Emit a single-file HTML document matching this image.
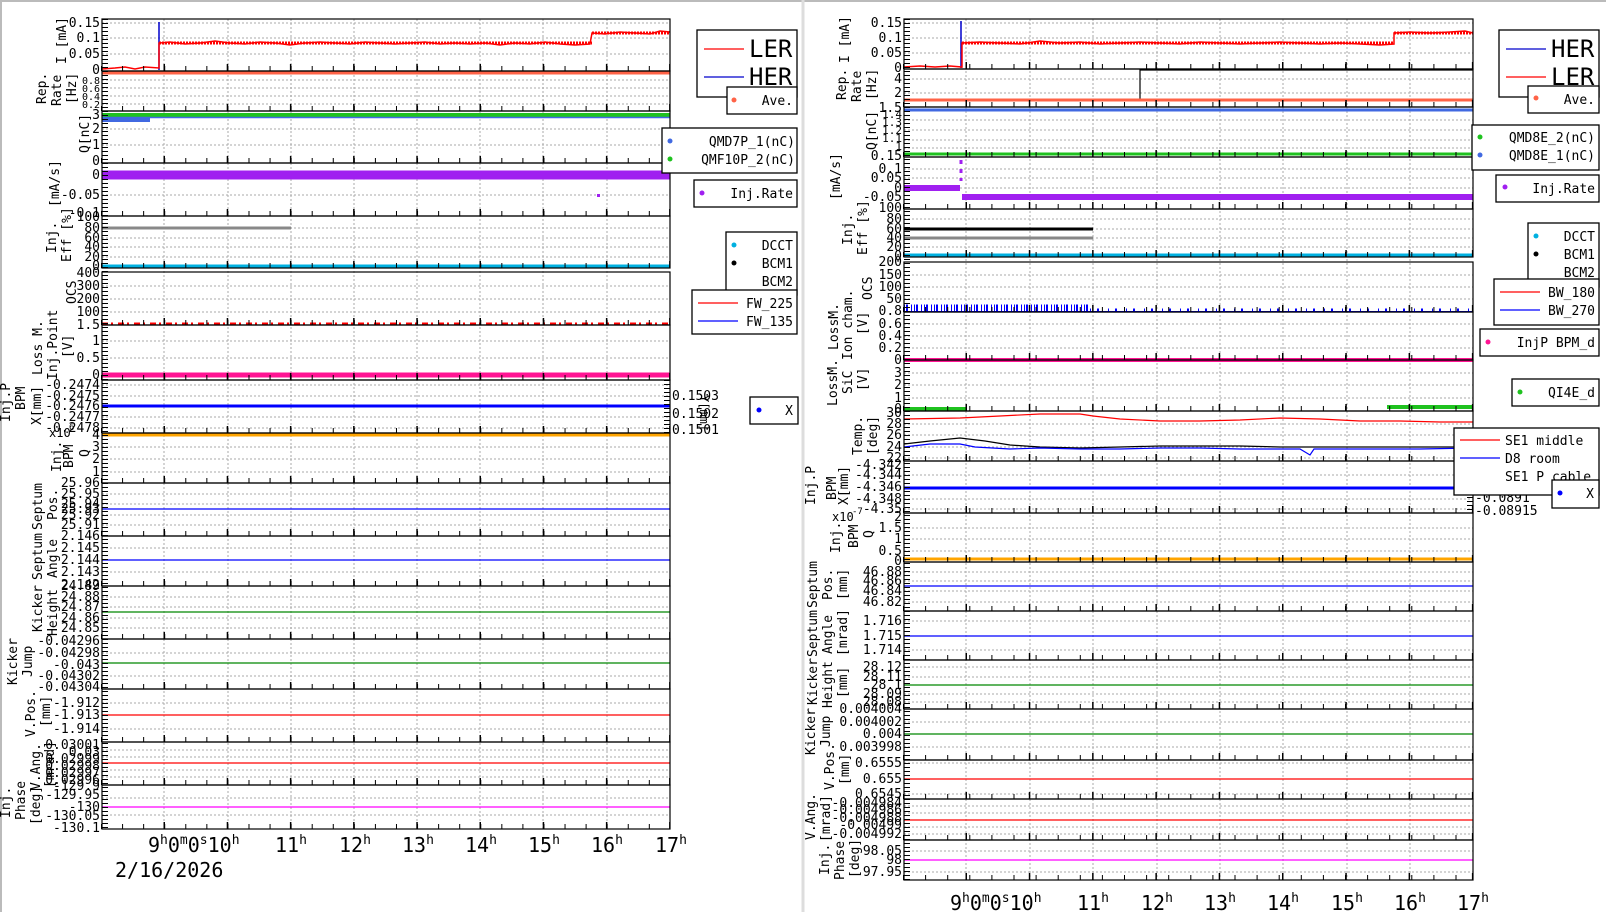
<!DOCTYPE html>
<html><head><meta charset="utf-8"><style>
html,body{margin:0;padding:0;background:#fff}
svg{display:block}
text{font-family:"DejaVu Sans Mono","Liberation Mono",monospace;font-size:13px;fill:#000}
.t{text-anchor:end}
.g{stroke:#aaa;stroke-width:1;stroke-dasharray:2 2}
.b{fill:none;stroke:#000;stroke-width:1.2}
.lg{fill:#fff;stroke:#000;stroke-width:1.3}
</style></head><body>
<svg width="1606" height="912" viewBox="0 0 1606 912" xmlns="http://www.w3.org/2000/svg">
<rect x="0" y="0" width="1606" height="912" fill="#fff"/>
<line x1="0" y1="1" x2="1606" y2="1" stroke="#bbb" stroke-width="2"/>
<line x1="1" y1="0" x2="1" y2="912" stroke="#bbb" stroke-width="2"/>
<line x1="803" y1="0" x2="803" y2="912" stroke="#ddd" stroke-width="3"/>

<!-- ============ LEFT PANEL ============ -->
<g>
<g class="g">
<line x1="164" y1="19" x2="164" y2="829"/><line x1="228" y1="19" x2="228" y2="829"/><line x1="291" y1="19" x2="291" y2="829"/><line x1="354" y1="19" x2="354" y2="829"/><line x1="417" y1="19" x2="417" y2="829"/><line x1="480" y1="19" x2="480" y2="829"/><line x1="543" y1="19" x2="543" y2="829"/><line x1="607" y1="19" x2="607" y2="829"/>
</g>
<g class="g">
<line x1="102" y1="23" x2="670" y2="23"/><line x1="102" y1="38" x2="670" y2="38"/><line x1="102" y1="54" x2="670" y2="54"/>
<line x1="102" y1="80" x2="670" y2="80"/><line x1="102" y1="88" x2="670" y2="88"/><line x1="102" y1="96" x2="670" y2="96"/><line x1="102" y1="104" x2="670" y2="104"/>
<line x1="102" y1="129" x2="670" y2="129"/><line x1="102" y1="145" x2="670" y2="145"/>
<line x1="102" y1="195" x2="670" y2="195"/>
<line x1="102" y1="228" x2="670" y2="228"/><line x1="102" y1="238" x2="670" y2="238"/><line x1="102" y1="247" x2="670" y2="247"/><line x1="102" y1="257" x2="670" y2="257"/>
<line x1="102" y1="286" x2="670" y2="286"/><line x1="102" y1="299" x2="670" y2="299"/><line x1="102" y1="312" x2="670" y2="312"/>
<line x1="102" y1="341" x2="670" y2="341"/><line x1="102" y1="358" x2="670" y2="358"/>
<line x1="102" y1="385" x2="670" y2="385"/><line x1="102" y1="396" x2="670" y2="396"/><line x1="102" y1="417" x2="670" y2="417"/><line x1="102" y1="428" x2="670" y2="428"/>
<line x1="102" y1="447" x2="670" y2="447"/><line x1="102" y1="459" x2="670" y2="459"/><line x1="102" y1="472" x2="670" y2="472"/>
<line x1="102" y1="494" x2="670" y2="494"/><line x1="102" y1="504" x2="670" y2="504"/><line x1="102" y1="515" x2="670" y2="515"/><line x1="102" y1="525" x2="670" y2="525"/>
<line x1="102" y1="548" x2="670" y2="548"/><line x1="102" y1="572" x2="670" y2="572"/>
<line x1="102" y1="597" x2="670" y2="597"/><line x1="102" y1="607" x2="670" y2="607"/><line x1="102" y1="618" x2="670" y2="618"/><line x1="102" y1="628" x2="670" y2="628"/>
<line x1="102" y1="653" x2="670" y2="653"/><line x1="102" y1="676" x2="670" y2="676"/>
<line x1="102" y1="703" x2="670" y2="703"/><line x1="102" y1="729" x2="670" y2="729"/>
<line x1="102" y1="750" x2="670" y2="750"/><line x1="102" y1="757" x2="670" y2="757"/><line x1="102" y1="770" x2="670" y2="770"/><line x1="102" y1="777" x2="670" y2="777"/>
<line x1="102" y1="798" x2="670" y2="798"/><line x1="102" y1="815" x2="670" y2="815"/>
</g>
<line x1="159" y1="22" x2="159" y2="70" stroke="#00c" stroke-width="1.5"/>
<polyline fill="none" stroke="#f00" stroke-width="1.5" points="102,69 115,68 125,67 135,69 145,67 159,68 159,43 170,42 185,44 200,43 215,41 230,43 245,44 260,42 275,43 290,45 305,43 320,42 335,43 350,44 365,42 380,43 395,44 410,43 425,42 440,44 455,43 470,44 485,43 500,45 515,43 530,44 545,42 560,44 575,45 590,44 592,33 605,34 620,32 635,33 650,34 660,31 670,32"/>
<polyline fill="none" stroke="#f00" stroke-width="3" stroke-dasharray="2 1" points="159,43 592,43"/>
<polyline fill="none" stroke="#f00" stroke-width="3" stroke-dasharray="2 1" points="592,33 670,33"/>
<line x1="102" y1="73" x2="670" y2="73" stroke="#ff6347" stroke-width="3"/>
<line x1="102" y1="115" x2="670" y2="115" stroke="#1fc21f" stroke-width="4"/>
<line x1="102" y1="117.5" x2="670" y2="117.5" stroke="#4169e1" stroke-width="1.5"/>
<rect x="102" y="117" width="48" height="5" fill="#4169e1"/>
<line x1="102" y1="175" x2="670" y2="175" stroke="#a020f0" stroke-width="9"/>
<rect x="597" y="194" width="3" height="3" fill="#a020f0"/>
<line x1="102" y1="228" x2="291" y2="228" stroke="#888" stroke-width="3"/>
<line x1="102" y1="266" x2="670" y2="266" stroke="#00b0e0" stroke-width="3"/>
<line x1="102" y1="323.5" x2="670" y2="323.5" stroke="#f00" stroke-width="2" stroke-dasharray="6 3 2 5"/>
<line x1="102" y1="325" x2="670" y2="325" stroke="#00f" stroke-width="1"/>
<line x1="102" y1="375" x2="670" y2="375" stroke="#ff1493" stroke-width="5"/>
<line x1="102" y1="406" x2="670" y2="406" stroke="#00f" stroke-width="3"/>
<line x1="102" y1="435" x2="670" y2="435" stroke="#ffa500" stroke-width="3"/>
<line x1="102" y1="509" x2="670" y2="509" stroke="#00f" stroke-width="1.3"/>
<line x1="102" y1="560" x2="670" y2="560" stroke="#00f" stroke-width="1.3"/>
<line x1="102" y1="612" x2="670" y2="612" stroke="#080" stroke-width="1.3"/>
<line x1="102" y1="663" x2="670" y2="663" stroke="#080" stroke-width="1.3"/>
<line x1="102" y1="715" x2="670" y2="715" stroke="#f00" stroke-width="1.3"/>
<line x1="102" y1="763" x2="670" y2="763" stroke="#f00" stroke-width="1.3"/>
<line x1="102" y1="807" x2="670" y2="807" stroke="#f0f" stroke-width="1.3"/>
<g class="b">
<rect x="102" y="19" width="568" height="52"/><rect x="102" y="71" width="568" height="40"/><rect x="102" y="111" width="568" height="52"/><rect x="102" y="163" width="568" height="53"/><rect x="102" y="216" width="568" height="52"/><rect x="102" y="272" width="568" height="53"/><rect x="102" y="325" width="568" height="55"/><rect x="102" y="380" width="568" height="53"/><rect x="102" y="433" width="568" height="50"/><rect x="102" y="483" width="568" height="53"/><rect x="102" y="536" width="568" height="50"/><rect x="102" y="586" width="568" height="53"/><rect x="102" y="639" width="568" height="50"/><rect x="102" y="689" width="568" height="53"/><rect x="102" y="742" width="568" height="43"/><rect x="102" y="785" width="568" height="44"/>
</g>
<line x1="105" y1="19" x2="105" y2="829" stroke="#000" stroke-width="6" stroke-dasharray="1 3"/>
<line x1="667" y1="380" x2="667" y2="433" stroke="#000" stroke-width="6" stroke-dasharray="1 3"/>
<g stroke="#000">
<g stroke-width="5" stroke-dasharray="1 20.07">
<line x1="101" y1="68.5" x2="670" y2="68.5"/><line x1="101" y1="108.5" x2="670" y2="108.5"/><line x1="101" y1="160.5" x2="670" y2="160.5"/><line x1="101" y1="213.5" x2="670" y2="213.5"/><line x1="101" y1="265.5" x2="670" y2="265.5"/><line x1="101" y1="322.5" x2="670" y2="322.5"/><line x1="101" y1="377.5" x2="670" y2="377.5"/><line x1="101" y1="430.5" x2="670" y2="430.5"/><line x1="101" y1="480.5" x2="670" y2="480.5"/><line x1="101" y1="533.5" x2="670" y2="533.5"/><line x1="101" y1="583.5" x2="670" y2="583.5"/><line x1="101" y1="636.5" x2="670" y2="636.5"/><line x1="101" y1="686.5" x2="670" y2="686.5"/><line x1="101" y1="739.5" x2="670" y2="739.5"/><line x1="101" y1="782.5" x2="670" y2="782.5"/><line x1="101" y1="826.5" x2="670" y2="826.5"/>
</g>
<g stroke-width="7" stroke-dasharray="1.5 61.7">
<line x1="163.5" y1="67.5" x2="670" y2="67.5"/><line x1="163.5" y1="107.5" x2="670" y2="107.5"/><line x1="163.5" y1="159.5" x2="670" y2="159.5"/><line x1="163.5" y1="212.5" x2="670" y2="212.5"/><line x1="163.5" y1="264.5" x2="670" y2="264.5"/><line x1="163.5" y1="321.5" x2="670" y2="321.5"/><line x1="163.5" y1="376.5" x2="670" y2="376.5"/><line x1="163.5" y1="429.5" x2="670" y2="429.5"/><line x1="163.5" y1="479.5" x2="670" y2="479.5"/><line x1="163.5" y1="532.5" x2="670" y2="532.5"/><line x1="163.5" y1="582.5" x2="670" y2="582.5"/><line x1="163.5" y1="635.5" x2="670" y2="635.5"/><line x1="163.5" y1="685.5" x2="670" y2="685.5"/><line x1="163.5" y1="738.5" x2="670" y2="738.5"/><line x1="163.5" y1="781.5" x2="670" y2="781.5"/><line x1="163.5" y1="825.5" x2="670" y2="825.5"/>
</g>
</g>
<g class="t">
<text x="100" y="27">0.15</text><text x="100" y="42">0.1</text><text x="100" y="58">0.05</text><text x="100" y="74">0</text>
<text x="100" y="84" style="font-size:10px">0.8</text><text x="100" y="92" style="font-size:10px">0.6</text><text x="100" y="100" style="font-size:10px">0.4</text><text x="100" y="108" style="font-size:10px">0.2</text>
<text x="100" y="119">3</text><text x="100" y="133">2</text><text x="100" y="149">1</text><text x="100" y="165">0</text>
<text x="100" y="179">0</text><text x="100" y="199">-0.05</text><text x="100" y="217">-0.1</text>
<text x="100" y="221">100</text><text x="100" y="232">80</text><text x="100" y="242">60</text><text x="100" y="251">40</text><text x="100" y="261">20</text><text x="100" y="270">0</text>
<text x="100" y="277">400</text><text x="100" y="290">300</text><text x="100" y="303">200</text><text x="100" y="316">100</text><text x="100" y="329">1.5</text>
<text x="100" y="345">1</text><text x="100" y="362">0.5</text><text x="100" y="379">0</text>
<text x="100" y="389">-0.2474</text><text x="100" y="400">-0.2475</text><text x="100" y="410">-0.2476</text><text x="100" y="421">-0.2477</text><text x="100" y="432">-0.2478</text>
<text x="100" y="439">4</text><text x="100" y="451">3</text><text x="100" y="463">2</text><text x="100" y="476">1</text>
<text x="100" y="487">25.96</text><text x="100" y="498">25.95</text><text x="100" y="508">25.94</text><text x="100" y="513">25.93</text><text x="100" y="519">25.92</text><text x="100" y="529">25.91</text>
<text x="100" y="540">2.146</text><text x="100" y="552">2.145</text><text x="100" y="564">2.144</text><text x="100" y="576">2.143</text><text x="100" y="589">2.142</text>
<text x="100" y="590">24.89</text><text x="100" y="601">24.88</text><text x="100" y="611">24.87</text><text x="100" y="622">24.86</text><text x="100" y="632">24.85</text>
<text x="100" y="645">-0.04296</text><text x="100" y="657">-0.04298</text><text x="100" y="669">-0.043</text><text x="100" y="680">-0.04302</text><text x="100" y="691">-0.04304</text>
<text x="100" y="707">-1.912</text><text x="100" y="719">-1.913</text><text x="100" y="733">-1.914</text>
<text x="100" y="749">0.03001</text><text x="100" y="756">0.03</text><text x="100" y="763">0.02999</text><text x="100" y="770">0.02998</text><text x="100" y="777">0.02997</text><text x="100" y="784">0.02996</text>
<text x="100" y="790">-129.9</text><text x="100" y="799">-129.95</text><text x="100" y="811">-130</text><text x="100" y="820">-130.05</text><text x="100" y="832">-130.1</text>
</g>
<text x="49" y="437" style="font-size:12px">x10</text><text x="69" y="430" style="font-size:9px">6</text>
<text x="672" y="400">0.1503</text><text x="672" y="418">0.1502</text><text x="672" y="434">0.1501</text>
<text transform="translate(700,395) rotate(90)" style="font-size:12px">Y[mm]</text>
<g>
<text transform="translate(66,64) rotate(-90)">I [mA]</text>
<text transform="translate(46,104) rotate(-90)">Rep.</text><text transform="translate(61,106) rotate(-90)">Rate</text><text transform="translate(76,104) rotate(-90)">[Hz]</text>
<text transform="translate(89,153) rotate(-90)">Q[nC]</text>
<text transform="translate(59,207) rotate(-90)">[mA/s]</text>
<text transform="translate(56,253) rotate(-90)">Inj.</text><text transform="translate(71,262) rotate(-90)">Eff [%]</text>
<text transform="translate(76,304) rotate(-90)">OCS</text>
<text transform="translate(42,375) rotate(-90)">Loss M.</text><text transform="translate(57,380) rotate(-90)">Inj.Point</text><text transform="translate(72,358) rotate(-90)">[V]</text>
<text transform="translate(10,422) rotate(-90)">Inj.P</text><text transform="translate(25,410) rotate(-90)">BPM</text><text transform="translate(41,425) rotate(-90)">X[mm]</text>
<text transform="translate(61,472) rotate(-90)">Inj.</text><text transform="translate(73,468) rotate(-90)">BPM</text><text transform="translate(89,457) rotate(-90)">Q</text>
<text transform="translate(42,530) rotate(-90)">Septum</text><text transform="translate(57,520) rotate(-90)">Pos.</text>
<text transform="translate(42,580) rotate(-90)">Septum</text><text transform="translate(57,578) rotate(-90)">Angle</text>
<text transform="translate(42,632) rotate(-90)">Kicker</text><text transform="translate(57,636) rotate(-90)">Height</text>
<text transform="translate(17,685) rotate(-90)">Kicker</text><text transform="translate(32,677) rotate(-90)">Jump</text>
<text transform="translate(35,737) rotate(-90)">V.Pos.</text><text transform="translate(50,727) rotate(-90)">[mm]</text>
<text transform="translate(40,790) rotate(-90)">V.Ang.</text><text transform="translate(54,788) rotate(-90)">[mrad]</text>
<text transform="translate(10,818) rotate(-90)">Inj.</text><text transform="translate(25,820) rotate(-90)">Phase</text><text transform="translate(40,825) rotate(-90)">[deg]</text>
</g>
<g style="font-size:20px">
<text x="148" y="852" style="font-size:20px">9<tspan dy="-8" style="font-size:13px">h</tspan><tspan dy="8">0</tspan><tspan dy="-8" style="font-size:13px">m</tspan><tspan dy="8">0</tspan><tspan dy="-8" style="font-size:13px">s</tspan><tspan dy="8">10</tspan><tspan dy="-8" style="font-size:13px">h</tspan></text>
<text x="275" y="852" style="font-size:20px">11<tspan dy="-8" style="font-size:13px">h</tspan></text>
<text x="339" y="852" style="font-size:20px">12<tspan dy="-8" style="font-size:13px">h</tspan></text>
<text x="402" y="852" style="font-size:20px">13<tspan dy="-8" style="font-size:13px">h</tspan></text>
<text x="465" y="852" style="font-size:20px">14<tspan dy="-8" style="font-size:13px">h</tspan></text>
<text x="528" y="852" style="font-size:20px">15<tspan dy="-8" style="font-size:13px">h</tspan></text>
<text x="591" y="852" style="font-size:20px">16<tspan dy="-8" style="font-size:13px">h</tspan></text>
<text x="655" y="852" style="font-size:20px">17<tspan dy="-8" style="font-size:13px">h</tspan></text>
<text x="115" y="877" style="font-size:20px">2/16/2026</text>
</g>
<rect class="lg" x="697" y="30" width="100" height="67"/>
<line x1="704" y1="49" x2="744" y2="49" stroke="#f00" stroke-width="1.3"/><text x="749" y="57" style="font-size:24px">LER</text>
<line x1="704" y1="77" x2="744" y2="77" stroke="#00c" stroke-width="1.3"/><text x="749" y="85" style="font-size:24px">HER</text>
<rect class="lg" x="727" y="87" width="70" height="27"/><circle cx="734" cy="100" r="2.5" fill="#ff6347"/><text x="793" y="105" class="t">Ave.</text>
<rect class="lg" x="662" y="128" width="135" height="45"/><circle cx="670" cy="141" r="2.5" fill="#4169e1"/><text x="795" y="146" class="t">QMD7P_1(nC)</text><circle cx="670" cy="159" r="2.5" fill="#1fc21f"/><text x="795" y="164" class="t">QMF10P_2(nC)</text>
<rect class="lg" x="694" y="180" width="103" height="27"/><circle cx="702" cy="193" r="2.5" fill="#a020f0"/><text x="793" y="198" class="t">Inj.Rate</text>
<rect class="lg" x="726" y="232" width="71" height="63"/><circle cx="734" cy="245" r="2.5" fill="#00b0e0"/><text x="793" y="250" class="t">DCCT</text><circle cx="734" cy="263" r="2.5" fill="#000"/><text x="793" y="268" class="t">BCM1</text><text x="793" y="286" class="t">BCM2</text>
<rect class="lg" x="692" y="290" width="105" height="44"/><line x1="698" y1="303" x2="738" y2="303" stroke="#f00" stroke-width="1.3"/><text x="793" y="308" class="t">FW_225</text><line x1="698" y1="321" x2="738" y2="321" stroke="#00f" stroke-width="1.3"/><text x="793" y="326" class="t">FW_135</text>
<rect class="lg" x="750" y="397" width="48" height="27"/><circle cx="759" cy="410" r="2.5" fill="#00f"/><text x="793" y="415" class="t">X</text>
</g>

<!-- ============ RIGHT PANEL ============ -->
<g>
<g class="g">
<line x1="966" y1="19" x2="966" y2="880"/><line x1="1030" y1="19" x2="1030" y2="880"/><line x1="1093" y1="19" x2="1093" y2="880"/><line x1="1157" y1="19" x2="1157" y2="880"/><line x1="1220" y1="19" x2="1220" y2="880"/><line x1="1283" y1="19" x2="1283" y2="880"/><line x1="1347" y1="19" x2="1347" y2="880"/><line x1="1410" y1="19" x2="1410" y2="880"/>
</g>
<g class="g">
<line x1="904" y1="23" x2="1473" y2="23"/><line x1="904" y1="38" x2="1473" y2="38"/><line x1="904" y1="53" x2="1473" y2="53"/>
<line x1="904" y1="79" x2="1473" y2="79"/><line x1="904" y1="93" x2="1473" y2="93"/>
<line x1="904" y1="120" x2="1473" y2="120"/><line x1="904" y1="130" x2="1473" y2="130"/><line x1="904" y1="140" x2="1473" y2="140"/><line x1="904" y1="148" x2="1473" y2="148"/>
<line x1="904" y1="169" x2="1473" y2="169"/><line x1="904" y1="178" x2="1473" y2="178"/><line x1="904" y1="188" x2="1473" y2="188"/>
<line x1="904" y1="219" x2="1473" y2="219"/><line x1="904" y1="229" x2="1473" y2="229"/><line x1="904" y1="238" x2="1473" y2="238"/><line x1="904" y1="247" x2="1473" y2="247"/>
<line x1="904" y1="275" x2="1473" y2="275"/><line x1="904" y1="287" x2="1473" y2="287"/><line x1="904" y1="299" x2="1473" y2="299"/>
<line x1="904" y1="324" x2="1473" y2="324"/><line x1="904" y1="336" x2="1473" y2="336"/><line x1="904" y1="348" x2="1473" y2="348"/>
<line x1="904" y1="373" x2="1473" y2="373"/><line x1="904" y1="385" x2="1473" y2="385"/><line x1="904" y1="398" x2="1473" y2="398"/>
<line x1="904" y1="424" x2="1473" y2="424"/><line x1="904" y1="435" x2="1473" y2="435"/><line x1="904" y1="447" x2="1473" y2="447"/><line x1="904" y1="458" x2="1473" y2="458"/>
<line x1="904" y1="475" x2="1473" y2="475"/><line x1="904" y1="499" x2="1473" y2="499"/><line x1="904" y1="509" x2="1473" y2="509"/>
<line x1="904" y1="528" x2="1473" y2="528"/><line x1="904" y1="539" x2="1473" y2="539"/><line x1="904" y1="551" x2="1473" y2="551"/>
<line x1="904" y1="572" x2="1473" y2="572"/><line x1="904" y1="581" x2="1473" y2="581"/><line x1="904" y1="591" x2="1473" y2="591"/><line x1="904" y1="602" x2="1473" y2="602"/>
<line x1="904" y1="621" x2="1473" y2="621"/><line x1="904" y1="650" x2="1473" y2="650"/>
<line x1="904" y1="667" x2="1473" y2="667"/><line x1="904" y1="677" x2="1473" y2="677"/><line x1="904" y1="694" x2="1473" y2="694"/><line x1="904" y1="702" x2="1473" y2="702"/>
<line x1="904" y1="722" x2="1473" y2="722"/><line x1="904" y1="747" x2="1473" y2="747"/>
<line x1="904" y1="763" x2="1473" y2="763"/><line x1="904" y1="794" x2="1473" y2="794"/>
<line x1="904" y1="806" x2="1473" y2="806"/><line x1="904" y1="813" x2="1473" y2="813"/><line x1="904" y1="827" x2="1473" y2="827"/><line x1="904" y1="834" x2="1473" y2="834"/>
<line x1="904" y1="851" x2="1473" y2="851"/><line x1="904" y1="872" x2="1473" y2="872"/>
</g>
<line x1="961" y1="21" x2="961" y2="68" stroke="#00c" stroke-width="1.5"/>
<polyline fill="none" stroke="#f00" stroke-width="1.5" points="904,67 920,66 935,67 950,66 962,67 962,43 980,42 1000,43 1020,44 1040,41 1060,43 1080,42 1100,44 1120,43 1140,42 1160,43 1180,44 1200,42 1220,43 1240,44 1260,43 1280,42 1300,43 1320,44 1340,43 1360,44 1380,45 1394,44 1394,33 1410,32 1430,33 1450,32 1465,31 1473,33"/>
<polyline fill="none" stroke="#f00" stroke-width="3" stroke-dasharray="2 1" points="962,43 1394,43"/>
<polyline fill="none" stroke="#f00" stroke-width="3" stroke-dasharray="2 1" points="1394,33 1473,33"/>
<polyline fill="none" stroke="#000" stroke-width="1.2" points="1140,99 1140,70 1473,70"/>
<line x1="904" y1="100" x2="1473" y2="100" stroke="#ff6347" stroke-width="3"/>
<line x1="904" y1="110" x2="1473" y2="110" stroke="#4169e1" stroke-width="3"/>
<line x1="904" y1="154" x2="1473" y2="154" stroke="#1fc21f" stroke-width="3"/>
<line x1="961" y1="160" x2="961" y2="181" stroke="#a020f0" stroke-width="3" stroke-dasharray="4 5"/>
<line x1="904" y1="188" x2="960" y2="188" stroke="#a020f0" stroke-width="6"/>
<line x1="962" y1="197" x2="1473" y2="197" stroke="#a020f0" stroke-width="6"/>
<line x1="904" y1="229" x2="1093" y2="229" stroke="#000" stroke-width="3"/>
<line x1="904" y1="238" x2="1093" y2="238" stroke="#888" stroke-width="3"/>
<line x1="904" y1="255" x2="1473" y2="255" stroke="#00b0e0" stroke-width="3"/>
<line x1="904" y1="308" x2="1090" y2="308" stroke="#00f" stroke-width="7" stroke-dasharray="1 1 2 3 1 2"/>
<line x1="1090" y1="310" x2="1473" y2="310" stroke="#00f" stroke-width="3" stroke-dasharray="1 6 2 9"/>
<line x1="904" y1="311.5" x2="1473" y2="311.5" stroke="#00f" stroke-width="1"/>
<line x1="904" y1="360" x2="1473" y2="360" stroke="#ff1493" stroke-width="4"/>
<line x1="904" y1="409" x2="967" y2="409" stroke="#1fc21f" stroke-width="4"/>
<line x1="1387" y1="407" x2="1473" y2="407" stroke="#1fc21f" stroke-width="4"/>
<polyline fill="none" stroke="#f00" stroke-width="1.2" points="904,419 960,418 1000,416 1040,414 1080,414 1093,416 1120,419 1160,421 1200,421 1240,420 1280,418 1320,419 1360,421 1400,421 1440,422 1473,422"/>
<polyline fill="none" stroke="#000" stroke-width="1.2" points="904,444 930,441 960,438 985,441 1010,445 1040,447 1080,448 1120,447 1160,446 1200,446 1240,446 1280,447 1320,447 1360,447 1400,447 1473,447"/>
<polyline fill="none" stroke="#00f" stroke-width="1.2" points="904,447 930,444 960,444 975,447 1010,449 1040,448 1080,449 1120,449 1160,448 1200,448 1240,449 1280,449 1300,449 1310,455 1314,449 1360,449 1420,449 1473,448"/>
<line x1="904" y1="488" x2="1473" y2="488" stroke="#00f" stroke-width="3"/>
<line x1="904" y1="559" x2="1473" y2="559" stroke="#ffa500" stroke-width="3"/>
<line x1="904" y1="586" x2="1473" y2="586" stroke="#00f" stroke-width="1.3"/>
<line x1="904" y1="636" x2="1473" y2="636" stroke="#00f" stroke-width="1.3"/>
<line x1="904" y1="685" x2="1473" y2="685" stroke="#080" stroke-width="1.3"/>
<line x1="904" y1="734" x2="1473" y2="734" stroke="#080" stroke-width="1.3"/>
<line x1="904" y1="779" x2="1473" y2="779" stroke="#f00" stroke-width="1.3"/>
<line x1="904" y1="820" x2="1473" y2="820" stroke="#f00" stroke-width="1.3"/>
<line x1="904" y1="860" x2="1473" y2="860" stroke="#f0f" stroke-width="1.3"/>
<g class="b">
<rect x="904" y="19" width="569" height="50"/><rect x="904" y="69" width="569" height="38"/><rect x="904" y="107" width="569" height="50"/><rect x="904" y="157" width="569" height="52"/><rect x="904" y="209" width="569" height="48"/><rect x="904" y="262" width="569" height="50"/><rect x="904" y="312" width="569" height="48"/><rect x="904" y="360" width="569" height="51"/><rect x="904" y="411" width="569" height="50"/><rect x="904" y="461" width="569" height="52"/><rect x="904" y="513" width="569" height="49"/><rect x="904" y="562" width="569" height="49"/><rect x="904" y="611" width="569" height="49"/><rect x="904" y="660" width="569" height="49"/><rect x="904" y="709" width="569" height="51"/><rect x="904" y="760" width="569" height="39"/><rect x="904" y="799" width="569" height="41"/><rect x="904" y="840" width="569" height="40"/>
</g>
<line x1="907" y1="19" x2="907" y2="880" stroke="#000" stroke-width="6" stroke-dasharray="1 3"/>
<line x1="1470" y1="461" x2="1470" y2="513" stroke="#000" stroke-width="6" stroke-dasharray="1 3"/>
<g stroke="#000">
<g stroke-width="5" stroke-dasharray="1 21.1">
<line x1="903" y1="66.5" x2="1473" y2="66.5"/><line x1="903" y1="104.5" x2="1473" y2="104.5"/><line x1="903" y1="154.5" x2="1473" y2="154.5"/><line x1="903" y1="206.5" x2="1473" y2="206.5"/><line x1="903" y1="254.5" x2="1473" y2="254.5"/><line x1="903" y1="309.5" x2="1473" y2="309.5"/><line x1="903" y1="357.5" x2="1473" y2="357.5"/><line x1="903" y1="408.5" x2="1473" y2="408.5"/><line x1="903" y1="458.5" x2="1473" y2="458.5"/><line x1="903" y1="510.5" x2="1473" y2="510.5"/><line x1="903" y1="559.5" x2="1473" y2="559.5"/><line x1="903" y1="608.5" x2="1473" y2="608.5"/><line x1="903" y1="657.5" x2="1473" y2="657.5"/><line x1="903" y1="706.5" x2="1473" y2="706.5"/><line x1="903" y1="757.5" x2="1473" y2="757.5"/><line x1="903" y1="796.5" x2="1473" y2="796.5"/><line x1="903" y1="837.5" x2="1473" y2="837.5"/><line x1="903" y1="877.5" x2="1473" y2="877.5"/>
</g>
<g stroke-width="7" stroke-dasharray="1.5 61.8">
<line x1="965.5" y1="65.5" x2="1473" y2="65.5"/><line x1="965.5" y1="103.5" x2="1473" y2="103.5"/><line x1="965.5" y1="153.5" x2="1473" y2="153.5"/><line x1="965.5" y1="205.5" x2="1473" y2="205.5"/><line x1="965.5" y1="253.5" x2="1473" y2="253.5"/><line x1="965.5" y1="308.5" x2="1473" y2="308.5"/><line x1="965.5" y1="356.5" x2="1473" y2="356.5"/><line x1="965.5" y1="407.5" x2="1473" y2="407.5"/><line x1="965.5" y1="457.5" x2="1473" y2="457.5"/><line x1="965.5" y1="509.5" x2="1473" y2="509.5"/><line x1="965.5" y1="558.5" x2="1473" y2="558.5"/><line x1="965.5" y1="607.5" x2="1473" y2="607.5"/><line x1="965.5" y1="656.5" x2="1473" y2="656.5"/><line x1="965.5" y1="705.5" x2="1473" y2="705.5"/><line x1="965.5" y1="756.5" x2="1473" y2="756.5"/><line x1="965.5" y1="795.5" x2="1473" y2="795.5"/><line x1="965.5" y1="836.5" x2="1473" y2="836.5"/><line x1="965.5" y1="876.5" x2="1473" y2="876.5"/>
</g>
</g>
<g class="t">
<text x="902" y="27">0.15</text><text x="902" y="42">0.1</text><text x="902" y="57">0.05</text><text x="902" y="72">0</text>
<text x="902" y="83">4</text><text x="902" y="97">2</text>
<text x="902" y="112">1.5</text><text x="902" y="118" style="font-size:11px">1.4</text><text x="902" y="126" style="font-size:11px">1.3</text><text x="902" y="134" style="font-size:11px">1.2</text><text x="902" y="142" style="font-size:11px">1.1</text><text x="902" y="150" style="font-size:11px">1</text><text x="902" y="160">0.15</text>
<text x="902" y="173">0.1</text><text x="902" y="182">0.05</text><text x="902" y="192">0</text><text x="902" y="201">-0.05</text><text x="902" y="212">100</text>
<text x="902" y="223">80</text><text x="902" y="233">60</text><text x="902" y="242">40</text><text x="902" y="251">20</text><text x="902" y="260">0</text>
<text x="902" y="266">200</text><text x="902" y="279">150</text><text x="902" y="291">100</text><text x="902" y="303">50</text><text x="902" y="315">0.8</text>
<text x="902" y="328">0.6</text><text x="902" y="340">0.4</text><text x="902" y="352">0.2</text><text x="902" y="364">0</text>
<text x="902" y="377">3</text><text x="902" y="389">2</text><text x="902" y="402">1</text><text x="902" y="413">0</text>
<text x="902" y="417">30</text><text x="902" y="428">28</text><text x="902" y="439">26</text><text x="902" y="451">24</text><text x="902" y="462">22</text>
<text x="902" y="469">-4.342</text><text x="902" y="479">-4.344</text><text x="902" y="491">-4.346</text><text x="902" y="503">-4.348</text><text x="902" y="513">-4.35</text>
<text x="902" y="521">2</text><text x="902" y="532">1.5</text><text x="902" y="543">1</text><text x="902" y="555">0.5</text><text x="902" y="565">0</text>
<text x="902" y="576">46.88</text><text x="902" y="585">46.86</text><text x="902" y="595">46.84</text><text x="902" y="606">46.82</text>
<text x="902" y="625">1.716</text><text x="902" y="640">1.715</text><text x="902" y="654">1.714</text>
<text x="902" y="671">28.12</text><text x="902" y="681">28.11</text><text x="902" y="689">28.1</text><text x="902" y="698">28.09</text><text x="902" y="706">28.08</text>
<text x="902" y="713">0.004004</text><text x="902" y="726">0.004002</text><text x="902" y="738">0.004</text><text x="902" y="751">0.003998</text>
<text x="902" y="767">0.6555</text><text x="902" y="783">0.655</text><text x="902" y="798">0.6545</text>
<text x="902" y="807">-0.004984</text><text x="902" y="814">-0.004986</text><text x="902" y="822">-0.004988</text><text x="902" y="829">-0.00499</text><text x="902" y="838">-0.004992</text>
<text x="902" y="855">98.05</text><text x="902" y="864">98</text><text x="902" y="876">97.95</text>
</g>
<text x="832" y="521" style="font-size:12px">x10</text><text x="852" y="514" style="font-size:9px">-7</text>
<text x="1475" y="474">-0.089</text><text x="1475" y="489">-0.08905</text><text x="1475" y="502">-0.0891</text><text x="1475" y="515">-0.08915</text>
<g>
<text transform="translate(849,63) rotate(-90)">I [mA]</text>
<text transform="translate(846,100) rotate(-90)">Rep.</text><text transform="translate(861,102) rotate(-90)">Rate</text><text transform="translate(876,100) rotate(-90)">[Hz]</text>
<text transform="translate(876,150) rotate(-90)">Q[nC]</text>
<text transform="translate(840,200) rotate(-90)">[mA/s]</text>
<text transform="translate(852,245) rotate(-90)">Inj.</text><text transform="translate(867,255) rotate(-90)">Eff [%]</text>
<text transform="translate(872,300) rotate(-90)">OCS</text>
<text transform="translate(838,350) rotate(-90)">LossM.</text><text transform="translate(852,360) rotate(-90)">Ion cham.</text><text transform="translate(867,335) rotate(-90)">[V]</text>
<text transform="translate(837,406) rotate(-90)">LossM.</text><text transform="translate(852,394) rotate(-90)">SiC</text><text transform="translate(867,391) rotate(-90)">[V]</text>
<text transform="translate(862,455) rotate(-90)">Temp.</text><text transform="translate(877,455) rotate(-90)">[deg]</text>
<text transform="translate(815,505) rotate(-90)">Inj.P</text><text transform="translate(836,500) rotate(-90)">BPM</text><text transform="translate(848,505) rotate(-90)">X[mm]</text>
<text transform="translate(840,553) rotate(-90)">Inj.</text><text transform="translate(858,548) rotate(-90)">BPM</text><text transform="translate(873,538) rotate(-90)">Q</text>
<text transform="translate(817,608) rotate(-90)">Septum</text><text transform="translate(832,600) rotate(-90)">Pos.</text><text transform="translate(847,600) rotate(-90)">[mm]</text>
<text transform="translate(817,657) rotate(-90)">Septum</text><text transform="translate(832,654) rotate(-90)">Angle</text><text transform="translate(847,656) rotate(-90)">[mrad]</text>
<text transform="translate(817,705) rotate(-90)">Kicker</text><text transform="translate(832,708) rotate(-90)">Height</text><text transform="translate(847,698) rotate(-90)">[mm]</text>
<text transform="translate(815,755) rotate(-90)">Kicker</text><text transform="translate(830,747) rotate(-90)">Jump</text>
<text transform="translate(834,790) rotate(-90)">V.Pos.</text><text transform="translate(849,785) rotate(-90)">[mm]</text>
<text transform="translate(815,840) rotate(-90)">V.Ang.</text><text transform="translate(830,842) rotate(-90)">[mrad]</text>
<text transform="translate(829,875) rotate(-90)">Inj.</text><text transform="translate(844,880) rotate(-90)">Phase</text><text transform="translate(859,878) rotate(-90)">[deg]</text>
</g>
<g>
<text x="950" y="910" style="font-size:20px">9<tspan dy="-8" style="font-size:13px">h</tspan><tspan dy="8">0</tspan><tspan dy="-8" style="font-size:13px">m</tspan><tspan dy="8">0</tspan><tspan dy="-8" style="font-size:13px">s</tspan><tspan dy="8">10</tspan><tspan dy="-8" style="font-size:13px">h</tspan></text>
<text x="1077" y="910" style="font-size:20px">11<tspan dy="-8" style="font-size:13px">h</tspan></text>
<text x="1141" y="910" style="font-size:20px">12<tspan dy="-8" style="font-size:13px">h</tspan></text>
<text x="1204" y="910" style="font-size:20px">13<tspan dy="-8" style="font-size:13px">h</tspan></text>
<text x="1267" y="910" style="font-size:20px">14<tspan dy="-8" style="font-size:13px">h</tspan></text>
<text x="1331" y="910" style="font-size:20px">15<tspan dy="-8" style="font-size:13px">h</tspan></text>
<text x="1394" y="910" style="font-size:20px">16<tspan dy="-8" style="font-size:13px">h</tspan></text>
<text x="1457" y="910" style="font-size:20px">17<tspan dy="-8" style="font-size:13px">h</tspan></text>
</g>
<rect class="lg" x="1499" y="30" width="100" height="67"/>
<line x1="1506" y1="49" x2="1546" y2="49" stroke="#00c" stroke-width="1.3"/><text x="1551" y="57" style="font-size:24px">HER</text>
<line x1="1506" y1="77" x2="1546" y2="77" stroke="#f00" stroke-width="1.3"/><text x="1551" y="85" style="font-size:24px">LER</text>
<rect class="lg" x="1528" y="86" width="71" height="27"/><circle cx="1536" cy="98" r="2.5" fill="#ff6347"/><text x="1595" y="104" class="t">Ave.</text>
<rect class="lg" x="1472" y="125" width="127" height="45"/><circle cx="1480" cy="137" r="2.5" fill="#1fc21f"/><text x="1595" y="142" class="t">QMD8E_2(nC)</text><circle cx="1480" cy="155" r="2.5" fill="#4169e1"/><text x="1595" y="160" class="t">QMD8E_1(nC)</text>
<rect class="lg" x="1496" y="175" width="103" height="27"/><circle cx="1505" cy="187" r="2.5" fill="#a020f0"/><text x="1595" y="193" class="t">Inj.Rate</text>
<rect class="lg" x="1528" y="223" width="71" height="64"/><circle cx="1536" cy="236" r="2.5" fill="#00b0e0"/><text x="1595" y="241" class="t">DCCT</text><circle cx="1536" cy="254" r="2.5" fill="#000"/><text x="1595" y="259" class="t">BCM1</text><text x="1595" y="277" class="t">BCM2</text>
<rect class="lg" x="1494" y="279" width="105" height="46"/><line x1="1500" y1="292" x2="1540" y2="292" stroke="#f00" stroke-width="1.3"/><text x="1595" y="297" class="t">BW_180</text><line x1="1500" y1="310" x2="1540" y2="310" stroke="#00f" stroke-width="1.3"/><text x="1595" y="315" class="t">BW_270</text>
<rect class="lg" x="1480" y="329" width="119" height="27"/><circle cx="1488" cy="342" r="2.5" fill="#ff1493"/><text x="1595" y="347" class="t">InjP BPM_d</text>
<rect class="lg" x="1512" y="379" width="87" height="27"/><circle cx="1520" cy="392" r="2.5" fill="#1fc21f"/><text x="1595" y="397" class="t">QI4E_d</text>
<rect class="lg" x="1454" y="428" width="145" height="67"/><line x1="1460" y1="440" x2="1500" y2="440" stroke="#f00" stroke-width="1.3"/><text x="1505" y="445">SE1 middle</text><line x1="1460" y1="458" x2="1500" y2="458" stroke="#00f" stroke-width="1.3"/><text x="1505" y="463">D8 room</text><text x="1505" y="481">SE1 P cable</text>
<rect class="lg" x="1552" y="480" width="47" height="28"/><circle cx="1560" cy="493" r="2.5" fill="#00f"/><text x="1594" y="498" class="t">X</text>
</g>
</svg>
</body></html>
